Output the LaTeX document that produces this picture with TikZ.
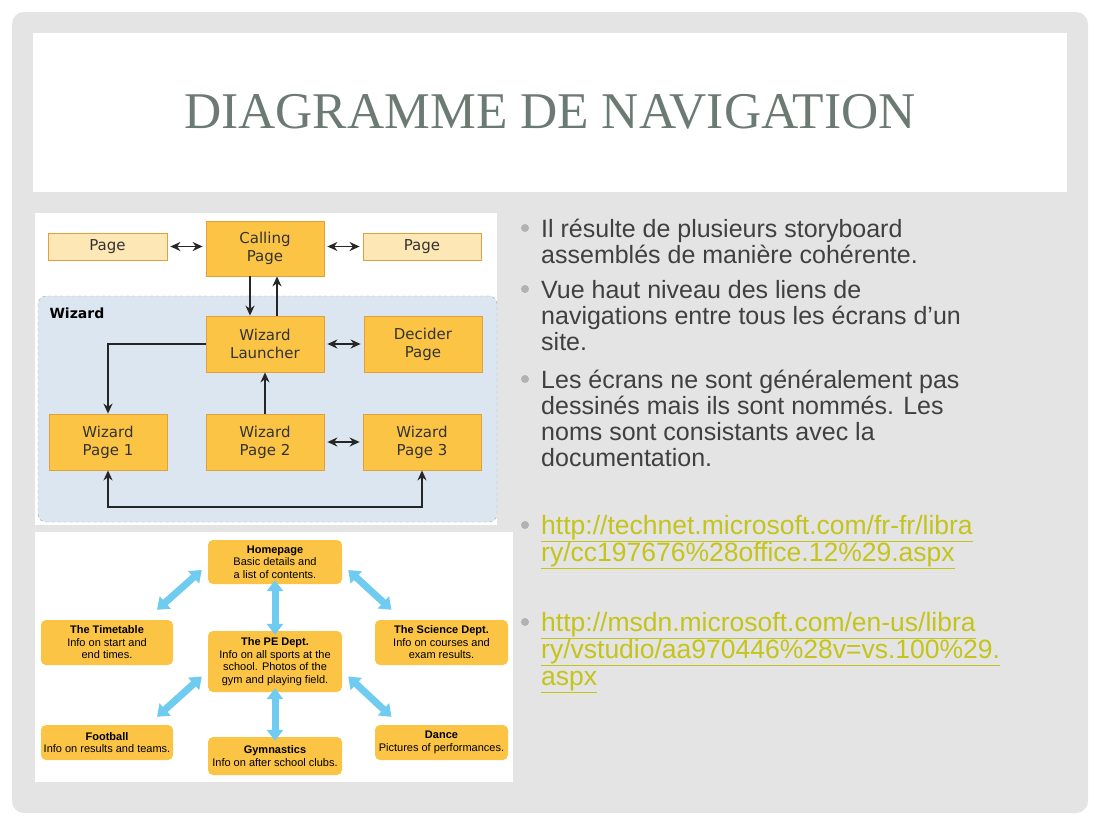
\documentclass[tikz,border=0pt]{standalone}
\usepackage{fontspec}
\setmainfont{Liberation Sans}
\newfontfamily\dv{DejaVu Sans}
\newfontfamily\ttl{Liberation Serif}
\usetikzlibrary{arrows.meta}
\definecolor{bgg}{HTML}{E4E4E4}
\definecolor{ttc}{HTML}{6B7B73}
\definecolor{orn}{HTML}{FBC445}
\definecolor{lorn}{HTML}{FDE7B4}
\definecolor{ocl}{HTML}{E0A040}
\definecolor{wiz}{HTML}{DCE6F0}
\definecolor{sky}{HTML}{70CBF0}
\definecolor{lnk}{HTML}{C4C41C}
\definecolor{txt}{HTML}{404040}
\begin{document}
\begin{tikzpicture}[x=1pt,y=-1pt,
 box/.style={draw=ocl,fill=orn,line width=0.8pt,font=\dv\fontsize{15}{18}\selectfont,align=center,text=black!80,inner sep=0},
 yb/.style={fill=orn,rounded corners=5pt,font=\fontsize{11}{12.5}\selectfont,align=center,inner sep=0},
 ar/.style={-{Stealth[length=10pt,width=9pt]},line width=1.6pt,black!85},
 dar/.style={{Stealth[length=10pt,width=9pt]}-{Stealth[length=10pt,width=9pt]},line width=1.6pt,black!85},
 bl/.style={{Triangle[length=11pt,width=16pt]}-{Triangle[length=11pt,width=16pt]},line width=7pt,sky},
 bt/.style={anchor=base west,inner sep=0,font=\fontsize{25}{28}\selectfont,text=txt},
 lk/.style={anchor=base west,inner sep=0,font=\fontsize{26.5}{28}\selectfont,text=lnk}]
\useasboundingbox (0,0) rectangle (1100,825);
\fill[white] (0,0) rectangle (1100,825);
\fill[bgg,rounded corners=12pt] (12,12) rectangle (1088,813);
\fill[white] (33,33) rectangle (1067,192);
\node[font=\ttl\fontsize{51.5}{56}\selectfont,text=ttc] (title) at (550,112) {DIAGRAMME DE NAVIGATION};
% upper diagram
\fill[white] (35,213) rectangle (497,525);
\draw[dashed,gray!70,fill=wiz,rounded corners=8pt] (38,296) rectangle (497,522);
\node[font=\dv\bfseries\fontsize{14}{16}\selectfont,anchor=west] (wl) at (46,313) {Wizard};
\node[box,fill=lorn,minimum width=119,minimum height=27] (p1) at (107.5,246.5) {Page};
\node[box,minimum width=118,minimum height=55] (cp) at (265,248.5) {Calling\\Page};
\node[box,fill=lorn,minimum width=118,minimum height=27] (p2) at (422,246.5) {Page};
\node[box,minimum width=118,minimum height=56] (wlch) at (265,344) {Wizard\\Launcher};
\node[box,minimum width=118,minimum height=56] (dp) at (423,344) {Decider\\Page};
\node[box,minimum width=118,minimum height=56] (w1) at (108,442) {Wizard\\Page 1};
\node[box,minimum width=118,minimum height=56] (w2) at (265,442) {Wizard\\Page 2};
\node[box,minimum width=118,minimum height=56] (w3) at (422,442) {Wizard\\Page 3};
\draw[dar] ([xshift=3pt]p1.east) -- ([xshift=-3pt]p1.east -| cp.west);
\draw[dar] ([xshift=3pt]p2.west -| cp.east) -- ([xshift=-3pt]p2.west);
\draw[ar] (cp.south -| 250,0) -- (wlch.north -| 250,0);
\draw[ar] (wlch.north -| 277,0) -- (cp.south -| 277,0);
\draw[dar] ([xshift=3pt]wlch.east) -- ([xshift=-3pt]dp.west);
\draw[ar] (wlch.west) -- (108,344) -- (w1.north);
\draw[ar] (w2.north) -- (wlch.south);
\draw[dar] ([xshift=3pt]w2.east) -- ([xshift=-3pt]w3.west);
\draw[dar] (w1.south) -- (108,507) -- (422,507) -- (w3.south);
% lower diagram
\fill[white] (35,532) rectangle (513,782);
\node[yb,minimum width=134,minimum height=44] (hp) at (275,562) {\textbf{Homepage}\\Basic details and\\a list of contents.};
\node[yb,minimum width=132,minimum height=45] (tt) at (107,642.5) {\textbf{The Timetable}\\Info on start and\\end times.};
\node[yb,minimum width=134,minimum height=61] (pe) at (275,661.5) {\textbf{The PE Dept.}\\Info on all sports at the\\school. Photos of the\\gym and playing field.};
\node[yb,minimum width=133,minimum height=45] (sc) at (441.5,642.5) {\textbf{The Science Dept.}\\Info on courses and\\exam results.};
\node[yb,minimum width=132,minimum height=35] (fb) at (107,742.5) {\textbf{Football}\\Info on results and teams.};
\node[yb,minimum width=134,minimum height=38] (gy) at (275,756) {\textbf{Gymnastics}\\Info on after school clubs.};
\node[yb,minimum width=133,minimum height=35] (da) at (441.5,742.5) {\textbf{Dance}\\Pictures of performances.};
\draw[bl] ([shift={(-6,8)}]hp.west) -- ([shift={(50,-10)}]tt.north);
\draw[bl] ([yshift=4]hp.south) -- ([yshift=-4]pe.north);
\draw[bl] ([shift={(6,8)}]hp.east) -- ([shift={(-50,-10)}]sc.north);
\draw[bl] ([shift={(-6,15)}]pe.west) -- ([shift={(50,-8)}]fb.north);
\draw[bl] ([yshift=4]pe.south) -- ([yshift=-4]gy.north);
\draw[bl] ([shift={(6,15)}]pe.east) -- ([shift={(-50,-8)}]da.north);
% bullets
\foreach \y in {228,289,379,525,622}{\fill[gray!60] (525,\y) circle (4);}
\node[bt] (b1) at (541,237) {Il résulte de plusieurs storyboard};
\node[bt] (b1b) at (541,263) {assemblés de manière cohérente.};
\node[bt] (b2) at (541,298) {Vue haut niveau des liens de};
\node[bt] (b2b) at (541,324) {navigations entre tous les écrans d’un};
\node[bt] (b2c) at (541,350) {site.};
\node[bt] (b3) at (541,388) {Les écrans ne sont généralement pas};
\node[bt] (b3b) at (541,414) {dessinés mais ils sont nommés.  Les};
\node[bt] (b3c) at (541,440) {noms sont consistants avec la};
\node[bt] (b3d) at (541,466) {documentation.};
\node[lk] (l1) at (541,534) {\underline{http://technet.microsoft.com/fr-fr/libra}};
\node[lk] (l1b) at (541,561) {\underline{ry/cc197676\%28office.12\%29.aspx}};
\node[lk] (l2) at (541,631) {\underline{http://msdn.microsoft.com/en-us/libra}};
\node[lk] (l2b) at (541,658) {\underline{ry/vstudio/aa970446\%28v=vs.100\%29.}};
\node[lk] (l2c) at (541,685) {\underline{aspx}};
\end{tikzpicture}
\end{document}
